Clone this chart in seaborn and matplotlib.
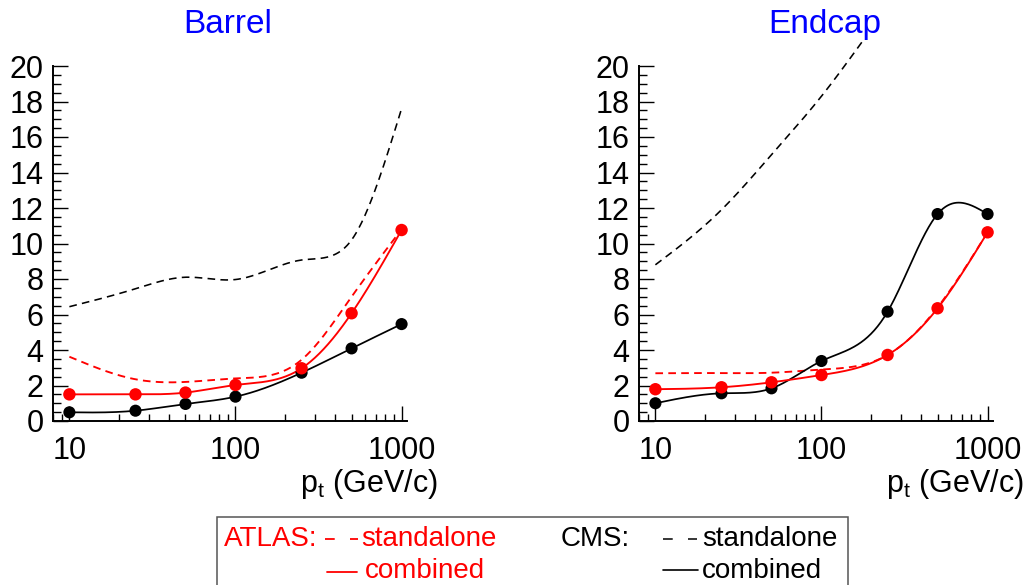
import numpy as np
import pandas as pd
import matplotlib
matplotlib.use("Agg")
import matplotlib.pyplot as plt
from matplotlib.lines import Line2D
from matplotlib.patches import Rectangle
from matplotlib.ticker import LogLocator, MultipleLocator, FixedLocator, NullFormatter
import seaborn as sns

# ---------------- data ----------------
pt = [10, 25, 50, 100, 250, 500, 1000]

# Barrel
barrel_atlas_comb = [1.50, 1.50, 1.60, 2.03, 2.97, 6.07, 10.76]
barrel_atlas_sa = [3.62, 2.35, 2.20, 2.40, 3.45, 7.00, 10.80]
barrel_cms_comb = [0.49, 0.58, 0.96, 1.37, 2.72, 4.09, 5.46]
barrel_cms_sa_pt = [10, 25, 50, 100, 250, 400, 500, 1000]
barrel_cms_sa = [6.44, 7.45, 8.10, 7.97, 9.07, 9.40, 10.20, 17.60]

# Endcap
endcap_atlas_comb = [1.79, 1.90, 2.18, 2.59, 3.72, 6.35, 10.63]
endcap_atlas_sa = [2.69, 2.70, 2.72, 2.90, 3.72, 6.40, 10.63]
endcap_cms_comb = [1.00, 1.56, 1.84, 3.38, 6.16, 11.66, 11.66]
endcap_cms_sa_pt = [10, 25, 50, 100, 180]
endcap_cms_sa = [8.80, 11.90, 15.00, 18.30, 21.50]

panel_titles = ["Barrel", "Endcap"]
x_ticks = [10, 100, 1000]
y_ticks = [0, 2, 4, 6, 8, 10, 12, 14, 16, 18, 20]
x_label = r"p$_\mathregular{t}$ (GeV/c)"

# ---------------- style ----------------
sns.set_theme(style="ticks")
plt.rcParams["font.family"] = ["Liberation Sans", "DejaVu Sans"]
plt.rcParams["mathtext.default"] = "regular"
plt.rcParams["lines.scale_dashes"] = False

W, H = 1031, 585
fig = plt.figure(figsize=(W / 100, H / 100), dpi=100)
fig.patch.set_facecolor("white")


def fx(x):
    return x / W


def fy(y):
    return 1 - y / H


def smooth(xv, yv, n=300):
    """Natural cubic spline in log10(x), used only to draw smooth curves."""
    x = np.log10(np.asarray(xv, float))
    y = np.asarray(yv, float)
    m = len(x)
    h = np.diff(x)
    A = np.zeros((m, m))
    r = np.zeros(m)
    A[0, 0] = A[-1, -1] = 1
    for i in range(1, m - 1):
        A[i, i - 1] = h[i - 1]
        A[i, i] = 2 * (h[i - 1] + h[i])
        A[i, i + 1] = h[i]
        r[i] = 3 * ((y[i + 1] - y[i]) / h[i] - (y[i] - y[i - 1]) / h[i - 1])
    c = np.linalg.solve(A, r)
    b = (y[1:] - y[:-1]) / h - h * (2 * c[:-1] + c[1:]) / 3
    d = (c[1:] - c[:-1]) / (3 * h)
    xs = np.linspace(x[0], x[-1], n)
    idx = np.clip(np.searchsorted(x, xs) - 1, 0, m - 2)
    dx = xs - x[idx]
    ys = y[idx] + b[idx] * dx + c[idx] * dx ** 2 + d[idx] * dx ** 3
    return pd.DataFrame({"pt": 10 ** xs, "res": ys})


DASH = (5.5, 3.8)
RED = "#ff0000"
BLACK = "#000000"
TFS = 22

panels = [
    dict(pos=[fx(53.3), fy(421), fx(407 - 53.3), (421 - 66) / H],
         atlas_comb=barrel_atlas_comb, atlas_sa=barrel_atlas_sa,
         cms_comb=barrel_cms_comb, cms_sa_pt=barrel_cms_sa_pt, cms_sa=barrel_cms_sa,
         title=panel_titles[0], title_x=228),
    dict(pos=[fx(639.3), fy(421), fx(993 - 639.3), (421 - 66) / H],
         atlas_comb=endcap_atlas_comb, atlas_sa=endcap_atlas_sa,
         cms_comb=endcap_cms_comb, cms_sa_pt=endcap_cms_sa_pt, cms_sa=endcap_cms_sa,
         title=panel_titles[1], title_x=825),
]

for p in panels:
    ax = fig.add_axes(p["pos"])
    ax.set_facecolor("white")
    ax.set_xscale("log")

    # standalone (dashed)
    d = smooth(p["cms_sa_pt"], p["cms_sa"])
    sns.lineplot(data=d, x="pt", y="res", ax=ax, color=BLACK, lw=1.15,
                 estimator=None, sort=False, clip_on=False,
                 zorder=3).lines[-1].set_dashes(DASH)
    d = smooth(pt, p["atlas_sa"])
    sns.lineplot(data=d, x="pt", y="res", ax=ax, color=RED, lw=1.35,
                 estimator=None, sort=False, zorder=3).lines[-1].set_dashes(DASH)

    # combined (solid + markers)
    d = smooth(pt, p["cms_comb"])
    sns.lineplot(data=d, x="pt", y="res", ax=ax, color=BLACK, lw=1.25,
                 estimator=None, sort=False, zorder=4)
    d = smooth(pt, p["atlas_comb"])
    sns.lineplot(data=d, x="pt", y="res", ax=ax, color=RED, lw=1.35,
                 estimator=None, sort=False, zorder=4)
    sns.scatterplot(x=pt, y=p["cms_comb"], ax=ax, color=BLACK, s=76,
                    edgecolor="none", zorder=5, clip_on=False)
    sns.scatterplot(x=pt, y=p["atlas_comb"], ax=ax, color=RED, s=80,
                    edgecolor="none", zorder=6, clip_on=False)

    ax.set_xlim(8.0, 1078)
    ax.set_ylim(0, 20)
    ax.set_xlabel("")
    ax.set_ylabel("")
    for s in ["top", "right"]:
        ax.spines[s].set_visible(False)
    for s in ["left", "bottom"]:
        ax.spines[s].set_linewidth(1.4)
        ax.spines[s].set_color("black")

    ax.xaxis.set_major_locator(FixedLocator(x_ticks))
    ax.set_xticklabels([str(t) for t in x_ticks])
    ax.xaxis.set_minor_locator(LogLocator(base=10, subs=np.arange(2, 10)))
    ax.xaxis.set_minor_formatter(NullFormatter())
    ax.yaxis.set_major_locator(FixedLocator(y_ticks))
    ax.set_yticklabels([str(t) for t in y_ticks])
    ax.yaxis.set_minor_locator(MultipleLocator(0.5))

    ax.tick_params(axis="both", which="major", direction="in", length=10.8,
                   width=1.0, color="black", labelsize=TFS, labelcolor="black")
    ax.tick_params(axis="both", which="minor", direction="in", length=5.4,
                   width=1.0, color="black")
    ax.tick_params(axis="y", which="major", pad=7)
    ax.tick_params(axis="x", which="major", pad=10.5)
    ax.grid(False)

    # x label, right aligned beyond the axis end
    right_px = p["pos"][0] * W + p["pos"][2] * W + 31
    fig.text(fx(right_px), fy(492), x_label, ha="right", va="baseline",
             fontsize=TFS, color="black")
    fig.text(fx(p["title_x"]), fy(33), p["title"], ha="center", va="baseline",
             fontsize=24, color="#0000ff")

# ---------------- legend box ----------------
fig.add_artist(Rectangle((fx(217), fy(600)), fx(848 - 217), (600 - 517) / H,
                         transform=fig.transFigure, facecolor="none",
                         edgecolor="#555555", lw=1.1))

LFS = 20
fig.text(fx(224), fy(546), "ATLAS:", color=RED, fontsize=LFS, va="baseline", ha="left")
fig.add_artist(Line2D([fx(325), fx(358)], [fy(539), fy(539)], color=RED, lw=1.3,
                      dashes=(7, 11), transform=fig.transFigure))
fig.text(fx(361), fy(546), "standalone", color=RED, fontsize=LFS, va="baseline", ha="left")
fig.add_artist(Line2D([fx(327), fx(357)], [fy(572), fy(572)], color=RED, lw=1.3,
                      transform=fig.transFigure))
fig.text(fx(365), fy(578), "combined", color=RED, fontsize=LFS, va="baseline", ha="left")

fig.text(fx(561), fy(546), "CMS:", color=BLACK, fontsize=LFS, va="baseline", ha="left")
fig.add_artist(Line2D([fx(663), fx(697)], [fy(539), fy(539)], color=BLACK, lw=1.1,
                      dashes=(7, 11), transform=fig.transFigure))
fig.text(fx(702), fy(546), "standalone", color=BLACK, fontsize=LFS, va="baseline", ha="left")
fig.add_artist(Line2D([fx(663), fx(698)], [fy(570), fy(570)], color=BLACK, lw=1.2,
                      transform=fig.transFigure))
fig.text(fx(702), fy(578), "combined", color=BLACK, fontsize=LFS, va="baseline", ha="left")

fig.savefig("out.png", dpi=100, facecolor="white")
